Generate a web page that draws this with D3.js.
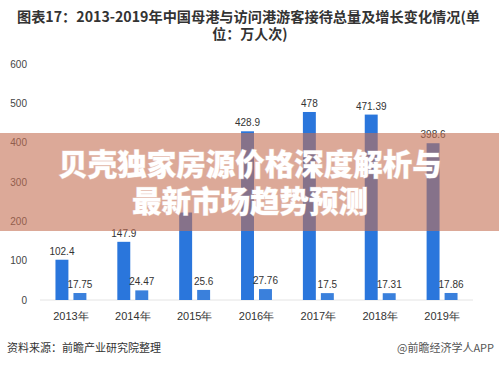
<!DOCTYPE html>
<html><head><meta charset="utf-8">
<script src="https://cdn.jsdelivr.net/npm/d3@7/dist/d3.min.js"></script>
<style>
html,body{margin:0;padding:0;background:#fff;}
svg{display:block;font-family:"Noto Sans CJK SC","Microsoft YaHei",sans-serif;}
</style></head>
<body>
<script>
const categories = ["2013年","2014年","2015年","2016年","2017年","2018年","2019年"];
const homePort = [102.4, 147.9, 222.4, 428.9, 478, 471.39, 398.6];
const visitPort = [17.75, 24.47, 25.6, 27.76, 17.5, 17.31, 17.86];
// 2015 home-port label is hidden behind the banner in the reference
const homeLabelShown = [true, true, false, true, true, true, true];
const yTicks = [0, 100, 200, 300, 400, 500, 600];
const titleLines = ["图表17：2013-2019年中国母港与访问港游客接待总量及增长变化情况(单", "位：万人次)"];
const bannerLines = ["贝壳独家房源价格深度解析与", "最新市场趋势预测"];
const sourceText = "资料来源：前瞻产业研究院整理";
const brandText = "@前瞻经济学人APP";

const W = 499, H = 366;
const svg = d3.select("body").append("svg").attr("width", W).attr("height", H);

const x0 = d3.scaleBand().domain(categories).range([40, 473]).paddingInner(0.5).paddingOuter(0.25);
const x1 = d3.scaleBand().domain(["home","visit"]).range([0, x0.bandwidth()]).paddingInner(0.28).paddingOuter(0);
const y = d3.scaleLinear().domain([0, 600]).range([300, 64]);

// title
svg.append("text").attr("x", 17).attr("y", 22).attr("textLength", 463).attr("lengthAdjust", "spacingAndGlyphs")
  .attr("font-size", 14).attr("font-weight", "bold").attr("fill", "#333").text(titleLines[0]);
svg.append("text").attr("x", 250).attr("y", 39).attr("text-anchor", "middle")
  .attr("font-size", 14).attr("font-weight", "bold").attr("fill", "#333").text(titleLines[1]);

// y axis
const yAxis = d3.axisLeft(y).tickValues(yTicks).tickSize(0).tickPadding(0);
const yg = svg.append("g").attr("transform", "translate(27,0)").call(yAxis);
yg.select(".domain").remove();
yg.selectAll("text").attr("font-size", 10).attr("fill", "#444").attr("font-family", "Liberation Sans, Arial, sans-serif");

// baseline
svg.append("line").attr("x1", 40).attr("x2", 473).attr("y1", y(0)).attr("y2", y(0))
  .attr("stroke", "#e4e4e4").attr("stroke-width", 1);

// x axis
const xAxis = d3.axisBottom(x0).tickSize(0).tickPadding(0);
const xg = svg.append("g").attr("transform", "translate(0,312)").call(xAxis);
xg.select(".domain").remove();
xg.selectAll("text").attr("font-size", 11).attr("fill", "#333");

// bars
const g = svg.append("g");
categories.forEach((c, i) => {
  const gx = x0(c);
  [["home", homePort[i], "#2a76dc", homeLabelShown[i]], ["visit", visitPort[i], "#3a80dc", true]].forEach(([k, v, col, show]) => {
    g.append("rect").attr("x", gx + x1(k)).attr("y", y(v)).attr("width", x1.bandwidth())
      .attr("height", y(0) - y(v)).attr("fill", col);
    if (show) {
      g.append("text").attr("x", gx + x1(k) + x1.bandwidth() / 2).attr("y", y(v) - 5)
        .attr("text-anchor", "middle").attr("font-size", 10).attr("fill", "#333")
        .attr("font-family", "Liberation Sans, Arial, sans-serif").text(v);
    }
  });
});

// source
svg.append("text").attr("x", 7).attr("y", 352).attr("font-size", 11).attr("fill", "#333").text(sourceText);
svg.append("text").attr("x", 397).attr("y", 352).attr("font-size", 11).attr("fill", "#555").text(brandText);

// banner overlay
svg.append("rect").attr("x", 0).attr("y", 133).attr("width", W).attr("height", 98)
  .attr("fill", "rgba(196,112,84,0.6)");
bannerLines.forEach((t, i) => {
  svg.append("text").attr("x", 250).attr("y", 175 + i * 37).attr("text-anchor", "middle")
    .attr("font-size", 29.5).attr("font-weight", 900).attr("fill", "#fff")
    .style("paint-order", "stroke").attr("stroke", "rgba(255,255,255,0.35)").attr("stroke-width", 1)
    .text(t);
});
</script>
</body></html>
